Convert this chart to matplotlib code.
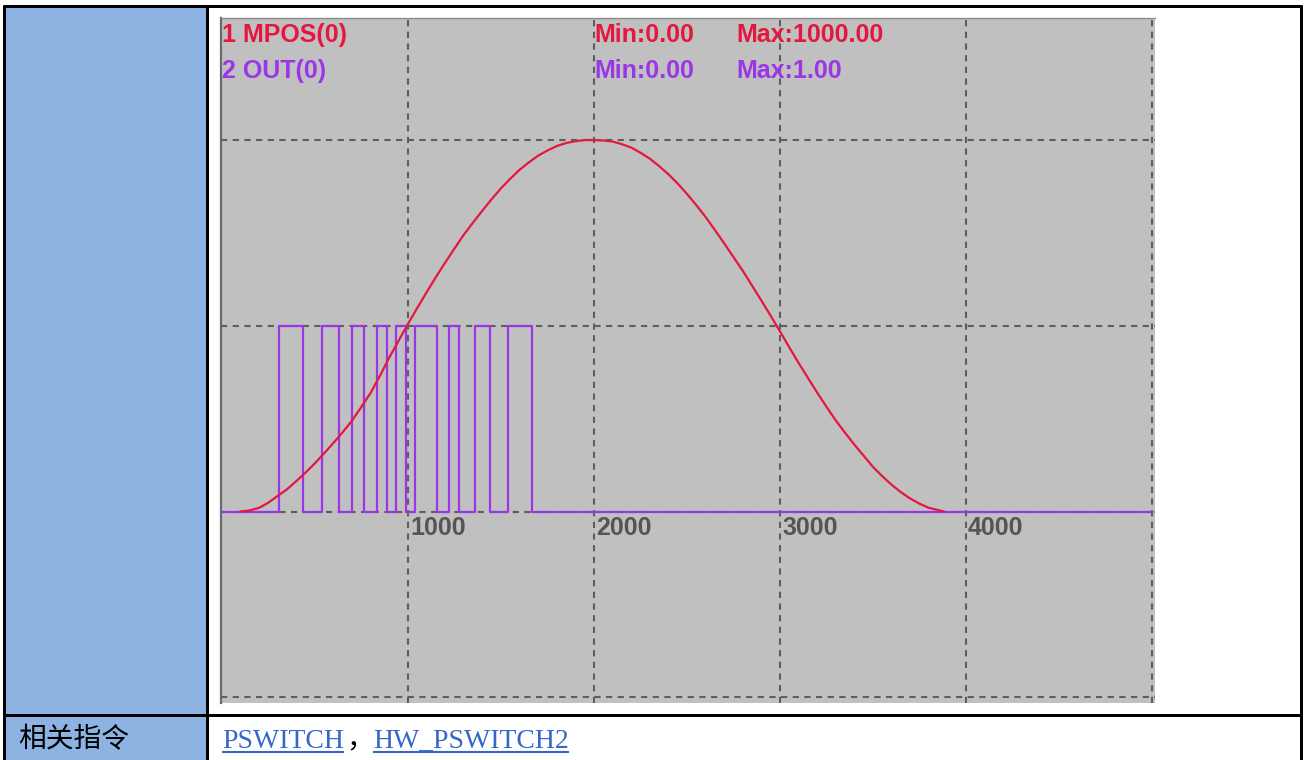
import matplotlib
matplotlib.use("Agg")
import numpy as np
import matplotlib.pyplot as plt
from matplotlib.patches import Rectangle

# MPOS(0) trace: axis position over time
mpos_t = [100, 150, 200, 250, 300, 350, 400, 450, 500, 550,
          600, 650, 700, 750, 800, 850, 900, 950, 1000, 1050,
          1100, 1150, 1200, 1250, 1300, 1350, 1400, 1450, 1500, 1550,
          1600, 1650, 1700, 1750, 1800, 1850, 1900, 1950, 2000, 2050,
          2100, 2150, 2200, 2250, 2300, 2350, 2400, 2450, 2500, 2550,
          2600, 2650, 2700, 2750, 2800, 2850, 2900, 2950, 3000, 3050,
          3100, 3150, 3200, 3250, 3300, 3350, 3400, 3450, 3500, 3550,
          3600, 3650, 3700, 3750, 3800, 3850, 3880]
mpos_v = [0, 3, 10, 24, 42, 60, 82, 105, 130, 157,
          185, 214, 245, 282, 320, 366, 415, 460, 505, 548,
          590, 631, 670, 708, 745, 778, 810, 841, 870, 896,
          920, 940, 958, 972, 984, 992, 997, 1000, 1000, 999,
          996, 989, 980, 966, 950, 930, 908, 883, 855, 825,
          793, 758, 722, 685, 648, 608, 568, 527, 485, 442,
          400, 360, 320, 282, 245, 212, 180, 150, 120, 95,
          72, 52, 35, 21, 10, 4, 0]

# OUT(0) trace: output state at each switching time
out_t = [0, 308, 437, 539, 629, 700, 765, 832, 885, 937, 990,
         1040, 1156, 1220, 1277, 1360, 1439, 1540, 1668, 5000]
out_v = [0, 1, 0, 1, 0, 1, 0, 1, 0, 1, 0,
         1, 0, 1, 0, 1, 0, 1, 0, 0]

x_grid = [1000, 2000, 3000, 4000, 5000]
x_labels = ["1000", "2000", "3000", "4000"]
y_grid = [-1, 0, 1, 2]
MPOS_PER_DIV = 500
OUT_PER_DIV = 1

row_title = "相关指令"
related = ["PSWITCH", "HW_PSWITCH2"]

RED = "#E5173F"
PURPLE = "#9A36E8"
GRID = "#5E5E5E"
BLUE_CELL = "#8DB3E2"
LINK = "#3467C8"
CHART_FONT = ["Liberation Sans", "DejaVu Sans"]

W, H = 1304, 760
fig = plt.figure(figsize=(W / 100, H / 100), dpi=100)

# table background in pixel coordinates
bg = fig.add_axes([0, 0, 1, 1])
bg.set_xlim(0, W)
bg.set_ylim(H, 0)
bg.axis("off")
bg.add_patch(Rectangle((5, 7), 201, H - 7, color=BLUE_CELL, lw=0))
lw_tab = 3 * 0.72
bg.plot([3, 1302], [6, 6], color="black", lw=lw_tab, solid_capstyle="butt")
bg.plot([3, 1302], [714.5, 714.5], color="black", lw=lw_tab, solid_capstyle="butt")
bg.plot([4, 4], [5, H], color="black", lw=lw_tab, solid_capstyle="butt")
bg.plot([206.5, 206.5], [5, H], color="black", lw=lw_tab, solid_capstyle="butt")
bg.plot([1301, 1301], [5, H], color="black", lw=lw_tab, solid_capstyle="butt")

# scope display
ax = fig.add_axes([221 / W, 57 / H, 934 / W, 685.5 / H])
ax.set_facecolor("#C0C0C0")
ax.set_xlim(-5, 5016)
ax.set_ylim(-1.031, 2.66)
ax.set_xticks([])
ax.set_yticks([])
for side in ("right", "bottom"):
    ax.spines[side].set_visible(False)
ax.spines["left"].set_color("#6A6A6A")
ax.spines["left"].set_linewidth(1.6)
ax.spines["top"].set_color("#8C8C8C")
ax.spines["top"].set_linewidth(1.0)

dash = (0, (3, 2.6))
for x in x_grid:
    ax.axvline(x, color=GRID, lw=1.5, linestyle=dash, zorder=1)
for y in y_grid:
    ax.axhline(y, color=GRID, lw=1.5, linestyle=dash, zorder=1)

ax.plot(out_t, np.array(out_v) / OUT_PER_DIV, drawstyle="steps-post",
        color=PURPLE, lw=1.6, zorder=3)
ax.plot(mpos_t, np.array(mpos_v) / MPOS_PER_DIV, color=RED, lw=1.6, zorder=4)

for x, lab in zip(x_grid, x_labels):
    ax.annotate(lab, (int(lab), 0), xytext=(2, -23), textcoords="offset pixels",
                va="baseline", ha="left", fontsize=18, fontweight="bold",
                color="#555555", family=CHART_FONT, zorder=5)

# overlay for text in pixel coordinates
ov = fig.add_axes([0, 0, 1, 1])
ov.set_xlim(0, W)
ov.set_ylim(H, 0)
ov.axis("off")
ov.patch.set_alpha(0)

traces = [("1 MPOS(0)", mpos_v, RED, 42), ("2 OUT(0)", out_v, PURPLE, 78)]
for name, vals, col, yb in traces:
    kw = dict(va="baseline", ha="left", fontsize=18, fontweight="bold",
              color=col, family=CHART_FONT)
    ov.text(222, yb, name, **kw)
    ov.text(594, yb, f"Min:{min(vals):.2f}", **kw)
    ov.text(736, yb, f"Max:{max(vals):.2f}", **kw)

ov.text(18, 739, row_title, va="center", ha="left", fontsize=20,
        family=["Noto Sans CJK SC", "DejaVu Sans"], color="black")

t1 = ov.text(222, 748, related[0], va="baseline", ha="left", fontsize=20,
             family="Liberation Serif", color=LINK)
ov.text(346, 748, "，", va="baseline", ha="left", fontsize=20,
        family=["Noto Sans CJK SC", "DejaVu Sans"], color="black")
t2 = ov.text(373, 748, related[1], va="baseline", ha="left", fontsize=20,
             family="Liberation Serif", color=LINK)

fig.canvas.draw()
inv = ov.transData.inverted()
for t in (t1, t2):
    bb = t.get_window_extent()
    x0 = inv.transform((bb.x0, 0))[0]
    x1 = inv.transform((bb.x1, 0))[0]
    ov.plot([x0, x1], [751.5, 751.5], color=LINK, lw=1.5, solid_capstyle="butt")

fig.savefig("out.png", dpi=100)
